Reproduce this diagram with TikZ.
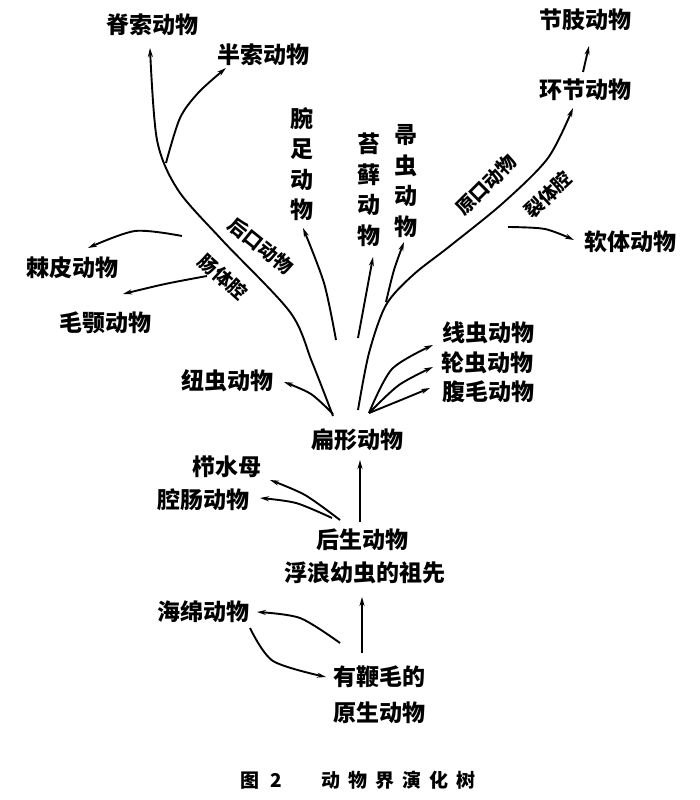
\documentclass[tikz,border=0pt]{standalone}
\usepackage{fontspec}
\setmainfont{Noto Sans CJK SC}
\usetikzlibrary{arrows.meta}
\tikzset{
  lbl/.style={font=\bfseries\fontsize{23}{28}\selectfont, inner sep=0pt},
  vlbl/.style={font=\bfseries\fontsize{23}{30.5}\selectfont, inner sep=0pt, align=center},
  rlbl/.style={font=\bfseries\fontsize{19}{23}\selectfont, inner sep=0pt},
  captext/.style={font=\bfseries\fontsize{19}{22}\selectfont, inner sep=0pt},
  arr/.style={line width=1.9pt, -{Stealth[length=9pt,width=5pt]}}
}
\begin{document}
\begin{tikzpicture}[x=1pt,y=-1pt]
\useasboundingbox (0,0) rectangle (700,800);
% ---- nodes ----
\node[lbl] (jisuo) at (152,25) {脊索动物};
\node[lbl] (bansuo) at (263,55) {半索动物};
\node[vlbl] (wanzu) at (302,164) {腕\\足\\动\\物};
\node[vlbl] (taixian) at (369,190) {苔\\藓\\动\\物};
\node[vlbl] (zhouchong) at (406,181) {帚\\虫\\动\\物};
\node[lbl] (jiezhi) at (585,20) {节肢动物};
\node[lbl] (huanjie) at (585,90) {环节动物};
\node[lbl] (ruanti) at (630,242) {软体动物};
\node[rlbl, rotate=45] (yuankou) at (486,185) {原口动物};
\node[rlbl, rotate=43] (lietiqiang) at (548,195) {裂体腔};
\node[rlbl, rotate=-39] (houkou) at (261,246) {后口动物};
\node[rlbl, rotate=-42] (changtiqiang) at (223,277) {肠体腔};
\node[lbl] (jipi) at (72,268) {棘皮动物};
\node[lbl] (maoe) at (105,323) {毛颚动物};
\node[lbl] (niuchong) at (227,381) {纽虫动物};
\node[lbl] (xianchong) at (488,333) {线虫动物};
\node[lbl] (lunchong) at (487,363) {轮虫动物};
\node[lbl] (fumao) at (488,392) {腹毛动物};
\node[lbl] (bianxing) at (357,440) {扁形动物};
\node[lbl] (zhishuimu) at (227,467) {栉水母};
\node[lbl] (qiangchang) at (203,500) {腔肠动物};
\node[lbl] (housheng) at (362,540) {后生动物};
\node[lbl] (fulang) at (365,573) {浮浪幼虫的祖先};
\node[lbl] (haimian) at (203,612) {海绵动物};
\node[lbl] (youbian) at (379,677) {有鞭毛的};
\node[lbl] (yuansheng) at (379,713) {原生动物};
\node[captext] (caption) at (358,780) {图\hspace{11pt}2\hspace{39pt}动\hspace{8pt}物\hspace{8pt}界\hspace{8pt}演\hspace{8pt}化\hspace{8pt}树};
% ---- coordinates ----
\coordinate (L0) at (333,416); \coordinate (L1) at (312,362); \coordinate (L2) at (290,312);
\coordinate (L3) at (222,240); \coordinate (L4) at (178,190); \coordinate (L5) at (157,140);
\coordinate (L6) at (150,48);
\coordinate (H0) at (166,163); \coordinate (H1) at (180,118); \coordinate (H2) at (199,92); \coordinate (H3) at (226,68);
\coordinate (W0) at (336,340); \coordinate (W1) at (324,283); \coordinate (W2) at (303,228);
\coordinate (T0) at (358,338); \coordinate (T1) at (373,257);
\coordinate (Z0) at (386,302); \coordinate (Z1) at (394,270); \coordinate (Z2) at (404,242);
\coordinate (R0) at (358,410); \coordinate (R1) at (369,353); \coordinate (R2) at (386,305);
\coordinate (R3) at (413,275); \coordinate (R4) at (450,246); \coordinate (R5) at (503,203);
\coordinate (R6) at (548,158); \coordinate (R7) at (573,108);
\coordinate (J0) at (583,72); \coordinate (J1) at (589,46);
\coordinate (S0) at (508,227); \coordinate (S1) at (545,229); \coordinate (S2) at (574,240);
\coordinate (B0) at (182,236); \coordinate (B1) at (135,231); \coordinate (B2) at (88,248);
\coordinate (M0) at (207,276); \coordinate (M1) at (165,284); \coordinate (M2) at (123,294);
\coordinate (N0) at (333,414); \coordinate (N1) at (311,394); \coordinate (N2) at (284,382);
\coordinate (F0) at (369,413);
\coordinate (X1) at (392,369); \coordinate (X2) at (433,345);
\coordinate (U1) at (399,385); \coordinate (U2) at (433,367);
\coordinate (G1) at (401,400); \coordinate (G2) at (430,388);
\coordinate (C0) at (340,520); \coordinate (C1) at (305,495); \coordinate (C2) at (270,480);
\coordinate (Q0) at (332,518); \coordinate (Q1) at (296,503); \coordinate (Q2) at (260,498);
\coordinate (V0) at (360,522); \coordinate (V1) at (360,460);
\coordinate (E0) at (362,653); \coordinate (E1) at (362,597);
\coordinate (A0) at (340,643); \coordinate (A1) at (300,618); \coordinate (A2) at (257,612);
\coordinate (D0) at (250,628); \coordinate (D1) at (273,661); \coordinate (D2) at (326,677);
% ---- connectors ----
\draw[arr] plot[smooth] coordinates {(L0) (L1) (L2) (L3) (L4) (L5) (L6)};
\draw[arr] plot[smooth] coordinates {(H0) (H1) (H2) (H3)};
\draw[arr] plot[smooth] coordinates {(W0) (W1) (W2)};
\draw[arr] (T0) -- (T1);
\draw[arr] plot[smooth] coordinates {(Z0) (Z1) (Z2)};
\draw[arr] plot[smooth] coordinates {(R0) (R1) (R2) (R3) (R4) (R5) (R6) (R7)};
\draw[arr] (J0) -- (J1);
\draw[arr] plot[smooth] coordinates {(S0) (S1) (S2)};
\draw[arr] plot[smooth] coordinates {(B0) (B1) (B2)};
\draw[arr] plot[smooth] coordinates {(M0) (M1) (M2)};
\draw[arr] plot[smooth] coordinates {(N0) (N1) (N2)};
\draw[arr] plot[smooth] coordinates {(F0) (X1) (X2)};
\draw[arr] plot[smooth] coordinates {(F0) (U1) (U2)};
\draw[arr] plot[smooth] coordinates {(F0) (G1) (G2)};
\draw[arr] plot[smooth] coordinates {(C0) (C1) (C2)};
\draw[arr] plot[smooth] coordinates {(Q0) (Q1) (Q2)};
\draw[arr] (V0) -- (V1);
\draw[arr] (E0) -- (E1);
\draw[arr] plot[smooth] coordinates {(A0) (A1) (A2)};
\draw[arr] plot[smooth] coordinates {(D0) (D1) (D2)};
\end{tikzpicture}
\end{document}
